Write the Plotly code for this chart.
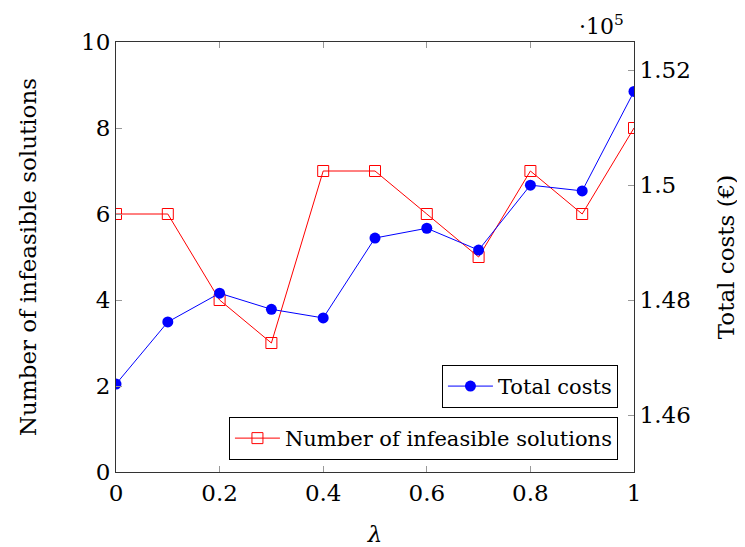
import plotly.graph_objects as go

lam = [0, 0.1, 0.2, 0.3, 0.4, 0.5, 0.6, 0.7, 0.8, 0.9, 1.0]
infeasible = [6, 6, 4, 3, 7, 7, 6, 5, 7, 6, 8]
total_costs = [146540, 147620, 148120, 147840, 147690, 149080, 149250, 148870, 150000, 149900, 151630]

x_ticks = [0, 0.2, 0.4, 0.6, 0.8, 1]
x_ticktext = ["0", "0.2", "0.4", "0.6", "0.8", "1"]
y_ticks = [0, 2, 4, 6, 8, 10]
y2_ticks = [146000, 148000, 150000, 152000]
y2_ticktext = ["1.46", "1.48", "1.5", "1.52"]

FONT = "DejaVu Serif"
fs = 23

fig = go.Figure()
fig.add_trace(go.Scatter(
    x=lam, y=infeasible, name="Number of infeasible solutions",
    mode="lines+markers", yaxis="y", legend="legend2",
    line=dict(color="#ff0000", width=1),
    marker=dict(symbol="square-open", size=11, color="#ff0000", line=dict(width=1)),
))
fig.add_trace(go.Scatter(
    x=lam, y=total_costs, name="Total costs",
    mode="lines+markers", yaxis="y2", legend="legend",
    line=dict(color="#0000ff", width=1),
    marker=dict(symbol="circle", size=11, color="#0000ff"),
))

axis_common = dict(
    showgrid=False, zeroline=False, ticks="inside", ticklen=6,
    tickcolor="#999999", showline=True, linecolor="#333333", linewidth=1,
    tickfont=dict(family=FONT, size=fs, color="black"), automargin=False,
)

fig.update_layout(
    width=737, height=539,
    margin=dict(l=108, r=111, t=34, b=75),
    plot_bgcolor="white", paper_bgcolor="white",
    font=dict(family=FONT, size=fs, color="black"),
    xaxis=dict(range=[0, 1], tickvals=x_ticks, ticktext=x_ticktext, mirror="ticks",
               title=dict(text="<i>λ</i>", font=dict(family=FONT, size=fs), standoff=24),
               **axis_common),
    yaxis=dict(range=[0, 10], tickvals=y_ticks, side="left",
               title=dict(text="Number of infeasible solutions", font=dict(family=FONT, size=fs), standoff=38),
               **axis_common),
    yaxis2=dict(range=[145010, 152490], tickvals=y2_ticks, ticktext=y2_ticktext,
                overlaying="y", side="right",
                title=dict(text="Total costs (€)", font=dict(family=FONT, size=fs), standoff=28),
                **axis_common),
    legend=dict(x=0.969, y=0.249, xanchor="right", yanchor="top",
                bordercolor="black", borderwidth=1, bgcolor="white", itemwidth=45,
                font=dict(family=FONT, size=21)),
    legend2=dict(x=0.969, y=0.128, xanchor="right", yanchor="top",
                 bordercolor="black", borderwidth=1, bgcolor="white", itemwidth=45,
                 font=dict(family=FONT, size=21)),
    showlegend=True,
    annotations=[dict(text="·10<sup>5</sup>", x=1.0, y=1.0, xref="paper", yref="paper",
                      xanchor="right", yanchor="bottom", yshift=1, xshift=-8,
                      showarrow=False, font=dict(family=FONT, size=22))],
)

fig.write_html("out.html")
